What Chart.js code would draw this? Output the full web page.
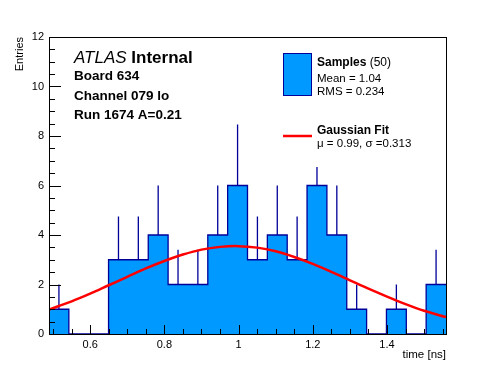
<!DOCTYPE html>
<html>
<head>
<meta charset="utf-8">
<script src="https://cdn.jsdelivr.net/npm/chart.js@4.4.1/dist/chart.umd.min.js"></script>
<style>
  body { margin: 0; background: #fff; }
  canvas { display: block; }
</style>
</head>
<body>
<canvas id="hist" width="496" height="372"></canvas>
<script>
// bin edges (time in ns), 20 bins
const binEdges = [0.489, 0.5425, 0.596, 0.6495, 0.703, 0.7565, 0.810, 0.8635, 0.917, 0.9705,
  1.024, 1.0775, 1.131, 1.1845, 1.238, 1.2915, 1.345, 1.3985, 1.452, 1.5055, 1.559];
// entries per bin
const counts = [1, 0, 0, 3, 3, 4, 2, 2, 4, 6, 3, 4, 3, 6, 4, 1, 0, 1, 0, 2];
// top end of the error bar in each bin (null = no bar)
const errTop = [2, null, null, 4.75, 4.75, 6, 3.4, 3.4, 6, 8.46, 4.75, 6, 4.75, 6.75, 6, 2, null, 2, null, 3.4];
// gaussian fit curve
const fitX = [0.489, 0.55, 0.60, 0.65, 0.70, 0.75, 0.80, 0.85, 0.90, 0.95, 1.00, 1.05,
  1.10, 1.15, 1.20, 1.25, 1.30, 1.35, 1.40, 1.45, 1.50, 1.559];
const fitY = [0.99, 1.32, 1.63, 1.97, 2.31, 2.65, 2.95, 3.21, 3.41, 3.52, 3.55, 3.49,
  3.34, 3.11, 2.83, 2.51, 2.17, 1.83, 1.51, 1.21, 0.94, 0.68];
const xTicks = [0.6, 0.8, 1.0, 1.2, 1.4];
const xMinor = [0.5, 0.55, 0.65, 0.7, 0.75, 0.85, 0.9, 0.95, 1.05, 1.1, 1.15, 1.25, 1.3, 1.35, 1.45, 1.5, 1.55];
const yTicks = [0, 2, 4, 6, 8, 10, 12];
const yMinor = [0.5, 1, 1.5, 2.5, 3, 3.5, 4.5, 5, 5.5, 6.5, 7, 7.5, 8.5, 9, 9.5, 10.5, 11, 11.5];

const FILL = '#0099ff';
const EDGE = '#000099';
const FONT = '"Liberation Sans", Arial, Helvetica, sans-serif';

Chart.defaults.font.family = FONT;
Chart.defaults.color = '#000';

// histogram outline as a stepped line
const histData = counts.map((c, i) => ({ x: binEdges[i], y: c }));
histData.push({ x: binEdges[binEdges.length - 1], y: counts[counts.length - 1] });

const errData = [];
counts.forEach((c, i) => {
  if (errTop[i] === null) return;
  const xc = (binEdges[i] + binEdges[i + 1]) / 2;
  errData.push({ x: xc, y: c }, { x: xc, y: errTop[i] }, { x: xc, y: null });
});

const fitData = fitX.map((x, i) => ({ x, y: fitY[i] }));

// ROOT-like frame, ticks inside, and the text blocks
const rootFrame = {
  id: 'rootFrame',
  afterDatasetsDraw(chart) {
    const { ctx, chartArea: a, scales: { x, y } } = chart;
    ctx.save();
    ctx.strokeStyle = '#000';
    ctx.lineWidth = 1;
    ctx.beginPath();
    xTicks.forEach(v => { const px = Math.round(x.getPixelForValue(v)) + 0.5; ctx.moveTo(px, a.bottom); ctx.lineTo(px, a.bottom - 9); });
    xMinor.forEach(v => { const px = Math.round(x.getPixelForValue(v)) + 0.5; ctx.moveTo(px, a.bottom); ctx.lineTo(px, a.bottom - 5); });
    yTicks.forEach(v => { const py = Math.round(y.getPixelForValue(v)) + 0.5; ctx.moveTo(a.left, py); ctx.lineTo(a.left + 12, py); });
    yMinor.forEach(v => { const py = Math.round(y.getPixelForValue(v)) + 0.5; ctx.moveTo(a.left, py); ctx.lineTo(a.left + 6, py); });
    ctx.stroke();
    ctx.strokeRect(Math.round(a.left) + 0.5, Math.round(a.top) + 0.5, Math.round(a.right - a.left), Math.round(a.bottom - a.top));
    ctx.restore();
  },
  afterDraw(chart) {
    const { ctx } = chart;
    ctx.save();
    ctx.fillStyle = '#000';
    ctx.textBaseline = 'alphabetic';
    // ATLAS label
    ctx.font = 'italic 17px ' + FONT;
    ctx.fillText('ATLAS', 74, 63);
    const w = ctx.measureText('ATLAS ').width;
    ctx.font = 'bold 17px ' + FONT;
    ctx.fillText('Internal', 74 + w, 63);
    ctx.font = 'bold 13.5px ' + FONT;
    ctx.fillText('Board 634', 74, 80);
    ctx.fillText('Channel 079 lo', 74, 100);
    ctx.fillText('Run 1674 A=0.21', 74, 119);

    // legend
    ctx.fillStyle = FILL;
    ctx.fillRect(283, 53, 29, 43);
    ctx.strokeStyle = EDGE;
    ctx.lineWidth = 1;
    ctx.strokeRect(283.5, 53.5, 28, 42);
    ctx.fillStyle = '#000';
    ctx.font = 'bold 12px ' + FONT;
    ctx.fillText('Samples', 317, 66);
    const sw = ctx.measureText('Samples').width;
    ctx.font = '12px ' + FONT;
    ctx.fillText(' (50)', 317 + sw, 66);
    ctx.font = '11.5px ' + FONT;
    ctx.fillText('Mean = 1.04', 317, 82);
    ctx.fillText('RMS = 0.234', 317, 95);
    ctx.strokeStyle = '#ff0000';
    ctx.lineWidth = 2.5;
    ctx.beginPath();
    ctx.moveTo(283, 136);
    ctx.lineTo(312, 136);
    ctx.stroke();
    ctx.font = 'bold 12px ' + FONT;
    ctx.fillText('Gaussian Fit', 317, 134);
    ctx.font = '11.5px ' + FONT;
    ctx.fillText('\u03bc = 0.99, \u03c3 =0.313', 317, 147);
    ctx.restore();
  }
};

new Chart(document.getElementById('hist'), {
  type: 'line',
  data: {
    datasets: [
      {
        label: 'Gaussian Fit',
        data: fitData,
        borderColor: '#ff0000',
        borderWidth: 2.5,
        pointRadius: 0,
        tension: 0.3,
        fill: false,
        order: 0
      },
      {
        label: 'errors',
        data: errData,
        borderColor: EDGE,
        borderWidth: 1.3,
        pointRadius: 0,
        spanGaps: false,
        fill: false,
        order: 1
      },
      {
        label: 'Samples',
        data: histData,
        stepped: 'before',
        borderColor: EDGE,
        borderWidth: 1.3,
        backgroundColor: FILL,
        pointRadius: 0,
        fill: 'origin',
        order: 2
      }
    ]
  },
  options: {
    responsive: false,
    animation: false,
    layout: { padding: { top: 37, right: 50, left: 0, bottom: 0 } },
    plugins: { legend: { display: false }, tooltip: { enabled: false } },
    scales: {
      x: {
        type: 'linear',
        min: binEdges[0],
        max: binEdges[binEdges.length - 1],
        afterFit: s => { s.height = 38; },
        afterBuildTicks: s => { s.ticks = xTicks.map(v => ({ value: v })); },
        grid: { display: false, drawTicks: false },
        border: { display: false },
        ticks: {
          font: { size: 11 },
          padding: 4,
          maxRotation: 0,
          callback: v => String(Math.round(v * 10) / 10)
        },
        title: {
          display: true,
          text: 'time [ns]',
          align: 'end',
          font: { size: 11.5 },
          padding: { top: 0, bottom: 10 }
        }
      },
      y: {
        min: 0,
        max: 12,
        afterFit: s => { s.width = 49; },
        afterBuildTicks: s => { s.ticks = yTicks.map(v => ({ value: v })); },
        grid: { display: false, drawTicks: false },
        border: { display: false },
        ticks: { font: { size: 11 }, padding: 5 },
        title: {
          display: true,
          text: 'Entries',
          align: 'end',
          font: { size: 11 },
          padding: { top: 13, bottom: 0 }
        }
      }
    }
  },
  plugins: [rootFrame]
});
</script>
</body>
</html>
